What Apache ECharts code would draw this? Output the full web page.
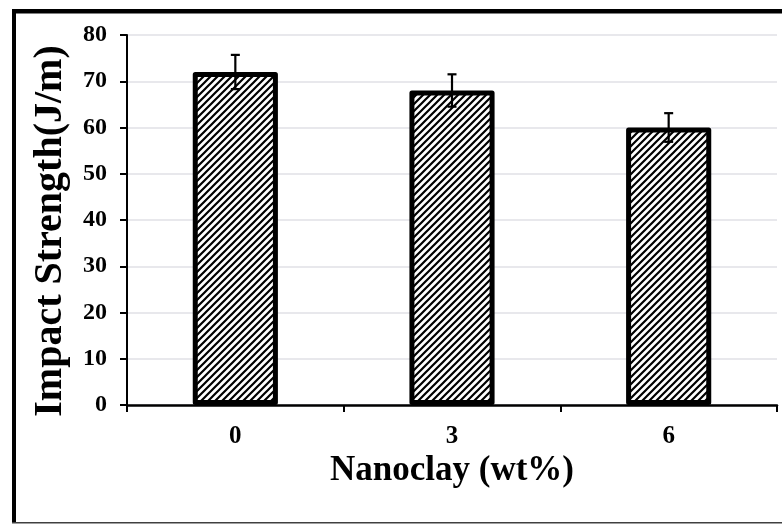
<!DOCTYPE html>
<html>
<head>
<meta charset="utf-8">
<script src="https://cdn.jsdelivr.net/npm/echarts@6/dist/echarts.min.js"></script>
<style>
  html, body { margin: 0; padding: 0; background: #fff; }
  #chart { width: 782px; height: 525px; }
</style>
</head>
<body>
<div id="chart"></div>
<script>
// Impact strength against nanoclay loading
const categories = ['0', '3', '6'];
const impactStrength = [72, 68, 60];
const stdDev = [3.7, 3.5, 3.1];
const yTicks = { min: 0, max: 80, interval: 10 };

const FONT = '"Liberation Serif", "Times New Roman", serif';

// diagonal hatch fill for the bars
function makeHatch() {
  const s = 7;
  const c = document.createElement('canvas');
  c.width = s; c.height = s;
  const g = c.getContext('2d');
  g.fillStyle = '#fff';
  g.fillRect(0, 0, s, s);
  g.strokeStyle = '#000';
  g.lineWidth = 2.2;
  g.beginPath();
  g.moveTo(-1, s + 1); g.lineTo(s + 1, -1);
  g.moveTo(-1, 1); g.lineTo(1, -1);
  g.moveTo(s - 1, s + 1); g.lineTo(s + 1, s - 1);
  g.stroke();
  return c;
}

const chart = echarts.init(document.getElementById('chart'));

const errData = categories.map((c, i) => [i, impactStrength[i], stdDev[i]]);

chart.setOption({
  animation: false,
  backgroundColor: '#fff',
  grid: { left: 127, right: 5, top: 35, bottom: 120 },
  graphic: [
    { type: 'rect', shape: { x: 12, y: 9, width: 4, height: 514 }, style: { fill: '#000' } },
    { type: 'rect', shape: { x: 12, y: 9, width: 770, height: 4.5 }, style: { fill: '#000' } },
    { type: 'rect', shape: { x: 12, y: 522, width: 770, height: 1.5 }, style: { fill: '#404040' } }
  ],
  xAxis: {
    type: 'category',
    data: categories,
    name: 'Nanoclay (wt%)',
    nameLocation: 'middle',
    nameGap: 46,
    nameTextStyle: { fontFamily: FONT, fontWeight: 'bold', fontSize: 35, color: '#000' },
    axisLine: { lineStyle: { color: '#000', width: 2.5 } },
    axisTick: { show: true, length: 7, lineStyle: { color: '#000', width: 2 } },
    axisLabel: { fontFamily: FONT, fontWeight: 'bold', fontSize: 25, color: '#000', margin: 19 }
  },
  yAxis: {
    type: 'value',
    min: yTicks.min,
    max: yTicks.max,
    interval: yTicks.interval,
    name: 'Impact Strength(J/m)',
    nameLocation: 'middle',
    nameGap: 56,
    nameTextStyle: {
      fontFamily: FONT, fontWeight: 'bold', fontSize: 40, color: '#000',
      padding: [0, 22, 0, 0]
    },
    axisLine: { show: true, lineStyle: { color: '#000', width: 2 } },
    axisTick: { show: true, length: 7, lineStyle: { color: '#000', width: 2 } },
    axisLabel: { fontFamily: FONT, fontWeight: 'bold', fontSize: 24, color: '#000', margin: 20 },
    splitLine: { lineStyle: { color: '#e0e0e6', width: 1.5 } }
  },
  series: [
    {
      type: 'bar',
      data: impactStrength,
      barWidth: '39.3%',
      itemStyle: {
        color: { image: makeHatch(), repeat: 'repeat' },
        borderColor: '#000',
        borderWidth: 5,
        borderJoin: 'round'
      },
      z: 2
    },
    {
      type: 'custom',
      data: errData,
      z: 5,
      renderItem: function (params, api) {
        const x = api.value(0);
        const v = api.value(1);
        const e = api.value(2);
        const top = api.coord([x, v + e]);
        const bot = api.coord([x, v - e]);
        const hw = 4.5;
        const style = { stroke: '#000', lineWidth: 2.2 };
        return {
          type: 'group',
          children: [
            { type: 'line', shape: { x1: top[0], y1: top[1], x2: bot[0], y2: bot[1] }, style: style },
            { type: 'line', shape: { x1: top[0] - hw, y1: top[1], x2: top[0] + hw, y2: top[1] }, style: style },
            { type: 'line', shape: { x1: bot[0] - hw, y1: bot[1], x2: bot[0] + hw, y2: bot[1] }, style: style }
          ]
        };
      }
    }
  ]
});
</script>
</body>
</html>
